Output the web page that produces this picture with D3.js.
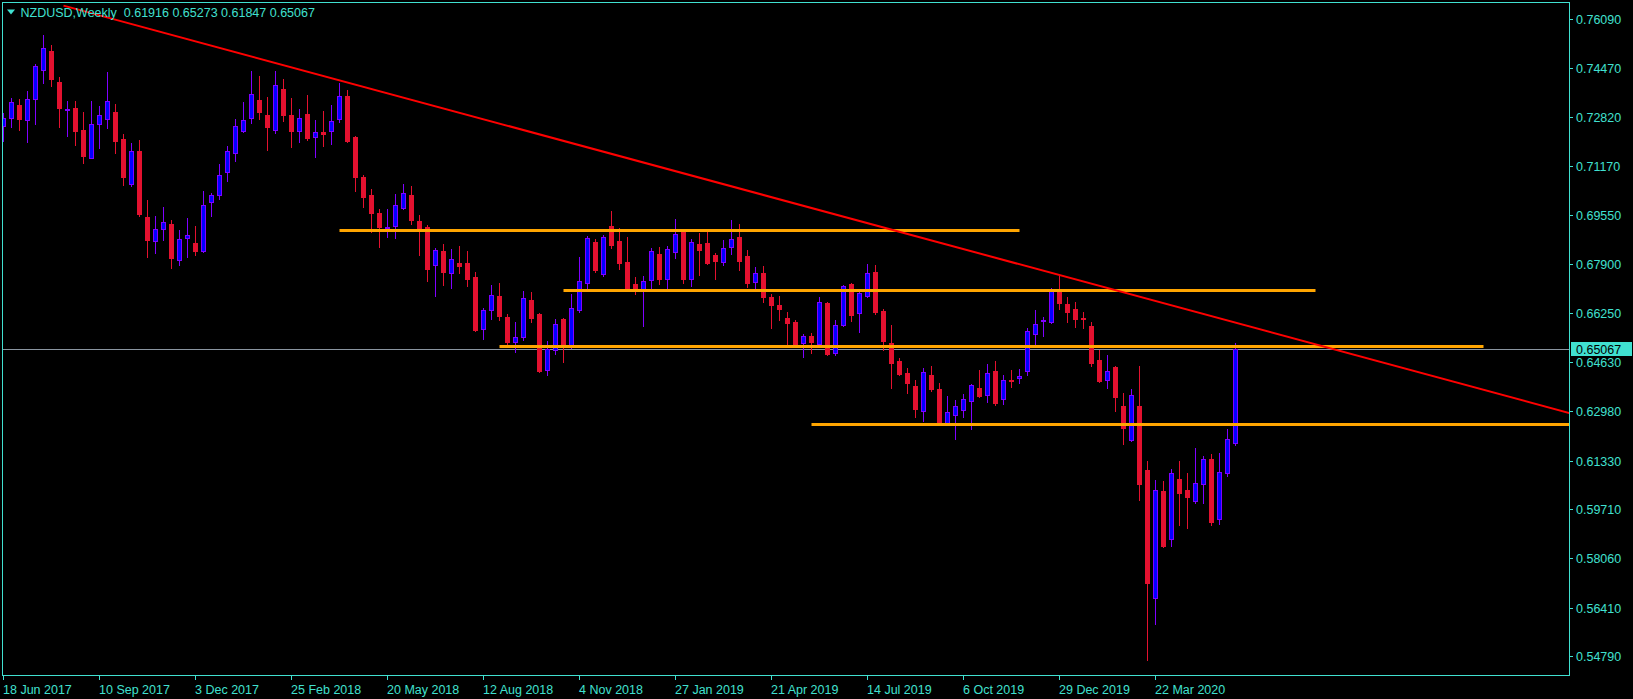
<!DOCTYPE html>
<html><head><meta charset="utf-8">
<script src="https://cdn.jsdelivr.net/npm/d3@7"></script>
<style>html,body{margin:0;padding:0;background:#000;overflow:hidden}</style>
</head><body>
<svg id="c" width="1633" height="699"></svg>
<script>
// ---------------- data ----------------
const symbolTitle = "NZDUSD,Weekly";
const opens = [0.7251,0.7278,0.7322,0.7273,0.7341,0.7438,0.7503,0.7399,0.7306,0.7312,
0.7239,0.7146,0.7258,0.7274,0.7299,0.7209,0.7059,0.7168,0.6948,0.6866,
0.6906,0.6923,0.6803,0.6876,0.6860,0.6835,0.6997,0.7022,0.7099,0.7163,
0.7236,0.7280,0.7338,0.7288,0.7240,0.7376,0.7288,0.7236,0.7291,0.7214,
0.7231,0.7236,0.7274,0.7351,0.7215,0.7081,0.7021,0.6960,0.6912,0.6918,
0.6979,0.7021,0.6934,0.6913,0.6786,0.6834,0.6759,0.6794,0.6794,0.6747,
0.6574,0.6637,0.6683,0.6613,0.6530,0.6547,0.6670,0.6623,0.6437,0.6502,
0.6606,0.6520,0.6635,0.6726,0.6864,0.6756,0.6916,0.6866,0.6796,0.6723,
0.6708,0.6738,0.6823,0.6741,0.6829,0.6897,0.6739,0.6856,0.6860,0.6819,
0.6798,0.6846,0.6880,0.6816,0.6729,0.6759,0.6679,0.6652,0.6610,0.6595,
0.6527,0.6550,0.6524,0.6659,0.6494,0.6587,0.6722,0.6625,0.6684,0.6763,
0.6632,0.6525,0.6465,0.6425,0.6382,0.6298,0.6419,0.6371,0.6259,0.6284,
0.6301,0.6331,0.6374,0.6351,0.6431,0.6338,0.6402,0.6408,0.6431,0.6555,
0.6600,0.6595,0.6699,0.6656,0.6639,0.6609,0.6583,0.6469,0.6401,0.6445,
0.6315,0.6203,0.6315,0.6101,0.5672,0.6031,0.5869,0.6070,0.6034,0.5996,
0.6053,0.6137,0.5936,0.6090,0.61916];
const highs = [0.7295,0.7346,0.7342,0.7369,0.7458,0.7556,0.7523,0.7417,0.7336,0.7336,
0.7299,0.7336,0.7319,0.7433,0.7326,0.7225,0.7195,0.7205,0.7004,0.6951,
0.6981,0.6937,0.6904,0.6944,0.6917,0.7035,0.7028,0.7125,0.7185,0.7274,
0.7332,0.7436,0.7419,0.7349,0.7436,0.7409,0.7346,0.7309,0.7356,0.7272,
0.7302,0.7322,0.7396,0.7372,0.7219,0.7088,0.7041,0.6974,0.6974,0.7025,
0.7058,0.7051,0.6954,0.6921,0.6843,0.6857,0.6841,0.6851,0.6834,0.6764,
0.6644,0.6720,0.6727,0.6622,0.6596,0.6700,0.6697,0.6626,0.6533,0.6606,
0.6611,0.6690,0.6814,0.6884,0.6874,0.6888,0.6968,0.6910,0.6881,0.6746,
0.6750,0.6843,0.6847,0.6851,0.6941,0.6904,0.6874,0.6894,0.6904,0.6826,
0.6871,0.6938,0.6924,0.6836,0.6780,0.6784,0.6690,0.6683,0.6630,0.6602,
0.6556,0.6559,0.6680,0.6662,0.6603,0.6719,0.6728,0.6698,0.6790,0.6787,
0.6639,0.6586,0.6476,0.6442,0.6402,0.6442,0.6449,0.6391,0.6349,0.6335,
0.6355,0.6389,0.6436,0.6455,0.6466,0.6418,0.6436,0.6438,0.6575,0.6635,
0.6612,0.6709,0.6750,0.6680,0.6663,0.6630,0.6596,0.6503,0.6486,0.6448,
0.6359,0.6372,0.6449,0.6131,0.6068,0.6066,0.6104,0.6131,0.6091,0.6175,
0.6148,0.6155,0.6158,0.6238,0.65273];
const lows = [0.7203,0.7250,0.7240,0.7199,0.7260,0.7397,0.7386,0.7250,0.7220,0.7188,
0.7129,0.7144,0.7179,0.7246,0.7163,0.7055,0.7051,0.6951,0.6815,0.6828,
0.6871,0.6778,0.6788,0.6815,0.6821,0.6830,0.6951,0.7008,0.7068,0.7135,
0.7232,0.7263,0.7275,0.7172,0.7230,0.7270,0.7183,0.7199,0.7206,0.7149,
0.7186,0.7192,0.7266,0.7199,0.7036,0.6982,0.6898,0.6848,0.6882,0.6878,
0.6975,0.6924,0.6820,0.6733,0.6683,0.6720,0.6710,0.6760,0.6717,0.6566,
0.6540,0.6606,0.6603,0.6523,0.6497,0.6537,0.6597,0.6430,0.6419,0.6490,
0.6462,0.6509,0.6630,0.6703,0.6764,0.6751,0.6845,0.6774,0.6704,0.6691,
0.6584,0.6704,0.6724,0.6704,0.6811,0.6728,0.6718,0.6755,0.6790,0.6740,
0.6787,0.6825,0.6770,0.6713,0.6711,0.6664,0.6577,0.6604,0.6523,0.6512,
0.6480,0.6493,0.6522,0.6486,0.6487,0.6583,0.6600,0.6564,0.6680,0.6623,
0.6504,0.6376,0.6420,0.6360,0.6279,0.6266,0.6366,0.6254,0.6254,0.6204,
0.6277,0.6239,0.6346,0.6330,0.6320,0.6323,0.6380,0.6393,0.6420,0.6519,
0.6550,0.6594,0.6641,0.6597,0.6581,0.6577,0.6450,0.6396,0.6376,0.6300,
0.6189,0.6199,0.6002,0.5466,0.5587,0.5843,0.5848,0.5917,0.5908,0.5990,
0.5992,0.5918,0.5921,0.6082,0.61847];
const closes = [0.7278,0.7331,0.7276,0.7341,0.7452,0.7512,0.7410,0.7313,0.7308,0.7236,
0.7153,0.7259,0.7289,0.7335,0.7203,0.7082,0.7167,0.6958,0.6872,0.6906,
0.6930,0.6811,0.6873,0.6886,0.6835,0.6987,0.7020,0.7087,0.7167,0.7251,
0.7271,0.7358,0.7300,0.7250,0.7388,0.7290,0.7236,0.7278,0.7213,0.7231,
0.7226,0.7268,0.7351,0.7203,0.7082,0.7015,0.6962,0.6915,0.6914,0.6987,
0.7027,0.6939,0.6905,0.6775,0.6836,0.6765,0.6806,0.6785,0.6740,0.6570,
0.6636,0.6686,0.6617,0.6529,0.6546,0.6676,0.6611,0.6432,0.6505,0.6589,
0.6517,0.6642,0.6732,0.6876,0.6771,0.6880,0.6855,0.6793,0.6706,0.6706,
0.6732,0.6833,0.6739,0.6840,0.6891,0.6739,0.6863,0.6838,0.6795,0.6801,
0.6843,0.6873,0.6801,0.6728,0.6759,0.6681,0.6654,0.6641,0.6594,0.6514,
0.6548,0.6530,0.6662,0.6488,0.6585,0.6716,0.6621,0.6692,0.6759,0.6631,
0.6534,0.6460,0.6423,0.6393,0.6306,0.6428,0.6373,0.6256,0.6294,0.6314,
0.6338,0.6385,0.6348,0.6425,0.6326,0.6401,0.6399,0.6416,0.6565,0.6589,
0.6602,0.6699,0.6661,0.6631,0.6607,0.6605,0.6460,0.6400,0.6431,0.6346,
0.6243,0.6351,0.6055,0.5724,0.6033,0.5848,0.6090,0.6025,0.6012,0.6057,
0.6137,0.5928,0.6093,0.6204,0.65067];

const priceTicks = [0.76090,0.74470,0.72820,0.71170,0.69550,0.67900,0.66250,0.64630,0.62980,0.61330,0.59710,0.58060,0.56410,0.54790];
const dateTickIndex = [0,12,24,36,48,60,72,84,96,108,120,132,144];
const dateTickLabels = ["18 Jun 2017","10 Sep 2017","3 Dec 2017","25 Feb 2018","20 May 2018","12 Aug 2018","4 Nov 2018","27 Jan 2019","21 Apr 2019","14 Jul 2019","6 Oct 2019","29 Dec 2019","22 Mar 2020"];
const bidPrice = 0.65067;
// trend line anchors: [bar index, price]
const trendIdx = [7.5, 150];
const trendPrice = [0.76547, 0.6623];
// horizontal levels
const levelPrice = [0.6903, 0.6702, 0.6515, 0.6256];
const levelFrom = [42, 70, 62, 101];
const levelTo = [127, 164, 185, 200];

// ---------------- drawing ----------------
const W = 1633, H = 699;
const FG = "#40e0d0";
const UP_FILL = "#0000ff", UP_LINE = "#8000ff";
const DN_FILL = "#e3112f", DN_LINE = "#e3112f";
const FONT = "'Liberation Sans', Arial, sans-serif";
const frame = {l: 2.5, r: 1569.5, t: 2.5, b: 675.5};

const x = d3.scaleLinear().domain([0, 195.75]).range([3.5, 1569.5]);
const y = d3.scaleLinear().domain([0.5413, 0.7667]).range([675.73, 1.96]);
const py = v => Math.round(y(v));

const svg = d3.select("#c");
svg.append("rect").attr("width", W).attr("height", H).attr("fill", "#000");
svg.append("defs").append("clipPath").attr("id", "clip")
  .append("rect").attr("x", 3).attr("y", 3).attr("width", 1566).attr("height", 672);
const g = svg.append("g").attr("clip-path", "url(#clip)");

// bid line
g.append("line").attr("x1", frame.l).attr("x2", frame.r)
  .attr("y1", py(bidPrice) + 0.5).attr("y2", py(bidPrice) + 0.5)
  .attr("stroke", "#8a95a0").attr("stroke-width", 1);

// candles
const bars = opens.map((o, i) => ({i, o, h: highs[i], l: lows[i], c: closes[i]}));
const cg = g.append("g");
bars.forEach(d => {
  const up = d.c >= d.o;
  const cx = x(d.i);
  const line = up ? UP_LINE : DN_LINE;
  cg.append("line").attr("x1", cx).attr("x2", cx)
    .attr("y1", py(d.h)).attr("y2", py(d.l) + 1)
    .attr("stroke", line).attr("stroke-width", 1);
  const top = py(Math.max(d.o, d.c)), bot = py(Math.min(d.o, d.c));
  if (bot - top < 1) {
    cg.append("line").attr("x1", cx - 2.5).attr("x2", cx + 2.5)
      .attr("y1", top + 0.5).attr("y2", top + 0.5)
      .attr("stroke", line).attr("stroke-width", 1);
  } else {
    cg.append("rect").attr("x", cx - 2).attr("width", 4)
      .attr("y", top + 0.5).attr("height", bot - top)
      .attr("fill", up ? UP_FILL : DN_FILL).attr("stroke", line).attr("stroke-width", 1);
  }
});

// horizontal levels
levelPrice.forEach((p, k) => {
  g.append("line").attr("x1", x(levelFrom[k])).attr("x2", x(levelTo[k]))
    .attr("y1", py(p) + 0.5).attr("y2", py(p) + 0.5)
    .attr("stroke", "#ffa500").attr("stroke-width", 3);
});

// trend line (ray to the right)
const slope = (trendPrice[1] - trendPrice[0]) / (trendIdx[1] - trendIdx[0]);
const endIdx = x.domain()[1] + 1;
g.append("line")
  .attr("x1", x(trendIdx[0])).attr("y1", y(trendPrice[0]))
  .attr("x2", x(endIdx)).attr("y2", y(trendPrice[0] + slope * (endIdx - trendIdx[0])))
  .attr("stroke", "#ff0000").attr("stroke-width", 2);

// frame
svg.append("rect").attr("x", frame.l).attr("y", frame.t)
  .attr("width", frame.r - frame.l).attr("height", frame.b - frame.t)
  .attr("fill", "none").attr("stroke", FG).attr("stroke-width", 1);

// price axis
const pa = svg.append("g").attr("font-family", FONT).attr("font-size", "12.5px");
priceTicks.forEach(p => {
  const yy = py(p) + 0.5;
  pa.append("line").attr("x1", 1570).attr("x2", 1573).attr("y1", yy).attr("y2", yy)
    .attr("stroke", FG).attr("stroke-width", 1);
  pa.append("text").attr("x", 1576).attr("y", yy).attr("dominant-baseline", "central")
    .attr("fill", FG).text(p.toFixed(5));
});
// bid label
const by = py(bidPrice) + 0.5;
pa.append("rect").attr("x", 1571).attr("y", by - 7.5).attr("width", 61).attr("height", 14).attr("fill", FG);
pa.append("text").attr("x", 1576).attr("y", by).attr("dominant-baseline", "central")
  .attr("fill", "#000").text(bidPrice.toFixed(5));

// time axis
const ta = svg.append("g").attr("font-family", FONT).attr("font-size", "12.5px");
dateTickIndex.forEach((idx, k) => {
  const xx = x(idx);
  ta.append("line").attr("x1", xx).attr("x2", xx).attr("y1", 676).attr("y2", 680)
    .attr("stroke", FG).attr("stroke-width", 1);
  ta.append("text").attr("x", xx - 0.5).attr("y", 694).attr("fill", FG).text(dateTickLabels[k]);
});

// title
svg.append("path").attr("d", "M7,9.5 L15,9.5 L11,14.5 Z").attr("fill", FG);
svg.append("text").attr("x", 20.5).attr("y", 17).attr("font-family", FONT).attr("font-size", "12.5px")
  .attr("fill", FG).style("white-space", "pre")
  .text(symbolTitle + "  " + [opens[opens.length-1], highs[highs.length-1], lows[lows.length-1], closes[closes.length-1]].map(v => v.toFixed(5)).join(" "));
</script>
</body></html>
